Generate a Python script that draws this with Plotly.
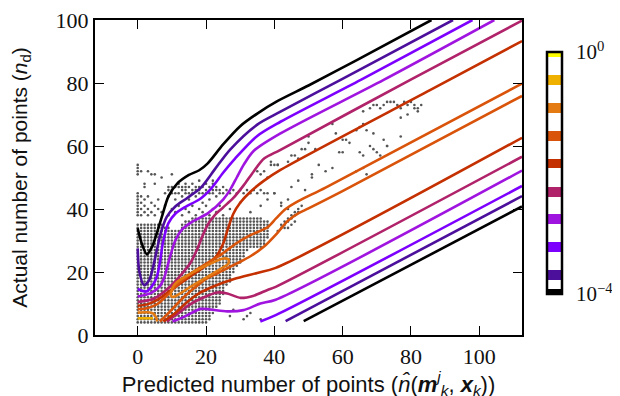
import plotly.graph_objects as go

# ---------------- data ----------------
level_colors = ["#000000", "#4c0f9c", "#7d00ff", "#a014e0", "#b0226a",
                "#c43000", "#d9540a", "#e37a12", "#f0b000", "#ffff00"]

black_up_x = [0, 1.2, 2.7, 4.2, 5.5, 7.2, 9, 11.5, 15, 18, 20.5, 25, 30, 35, 41, 50, 64, 86]
black_up_y = [33.9, 29, 25.6, 28, 32, 38, 44, 48, 50.8, 52.3, 54.5, 60.5, 66.3, 70.3, 74.3, 79.2, 87.2, 100]
black_lo_x = [48.6, 112.5]
black_lo_y = [4.4, 40.8]

indigo_up_x = [0, 0.5, 1.9, 3.4, 4.6, 5.7, 6.8, 8.5, 11, 14.5, 18.5, 22.5, 27, 35, 41.8, 59.4, 92.3]
indigo_up_y = [27.5, 20, 15.8, 17.5, 22, 27.5, 32.5, 37.5, 40.8, 43.5, 46.8, 52.5, 58.8, 66.8, 70.9, 81, 100]
indigo_lo_x = [43.3, 112.5]
indigo_lo_y = [4.4, 44.1]

violet_up_x = [0, 2.5, 4.4, 5.6, 6.5, 7.5, 9, 11, 14, 18, 21.5, 25, 28.5, 35, 41.8, 65.3, 98]
violet_up_y = [14.6, 13.8, 15.9, 18.5, 23, 30, 35.5, 38.5, 40.7, 43, 46.5, 51.5, 56, 63.2, 67.7, 81, 100]
violet_lo_x = [35.9, 40.4, 112.5]
violet_lo_y = [4.3, 6.3, 47.3]

purple_up_x = [0, 3.8, 6.5, 7.7, 9.2, 11, 13, 16, 20.5, 25, 27, 29, 31, 34, 41.8, 72, 104.4]
purple_up_y = [12.2, 13.3, 15.5, 18, 23.8, 30, 33.5, 36, 38.6, 43, 46, 50, 54, 58.5, 64, 81, 100]
purple_lo_x = [10.2, 14, 18.4, 21.3, 26.2, 31, 35.9, 40.4, 112.5]
purple_lo_y = [4.3, 6, 8.3, 8.1, 7.5, 7.9, 10, 11.2, 52.2]

magenta_up_x = [0, 4.8, 9.6, 13, 15.5, 17.5, 19, 20.5, 22.5, 25, 28, 31, 34, 37, 41.8, 79.8, 112.5]
magenta_up_y = [10.5, 11.6, 15.5, 19.5, 23, 27.5, 31.5, 35, 38, 40.5, 43.5, 47.5, 52, 56, 58.8, 81, 99.8]
magenta_lo_x = [8.5, 12, 15, 18.4, 23.3, 26.2, 30.1, 34, 38, 40.4, 112.5]
magenta_lo_y = [4.3, 7, 9.5, 11.5, 13.5, 13.2, 11.8, 12.5, 14.3, 15.3, 56.6]

red_up_x = [0, 3, 6, 10, 15.5, 20, 23, 25, 26.5, 28, 30, 33, 37, 41.8, 85.7, 112.5]
red_up_y = [9.3, 9.8, 11.3, 14.5, 18.7, 22, 25, 29, 34, 38.5, 42, 45.5, 49, 52.4, 77.8, 93.3]
red_lo_x = [7.5, 11, 14.5, 18.4, 22.3, 28.2, 35, 40.4, 112.5]
red_lo_y = [4.3, 7, 10.5, 13.5, 15.5, 17.8, 19.7, 21.3, 62.6]

dorange_up_x = [0, 3, 6, 9, 12, 16, 20, 25, 29, 33, 38, 40.5, 43.3, 47, 55, 112.5]
dorange_up_y = [8.2, 8.6, 10, 13, 16.3, 19.8, 22.6, 26, 29.2, 31.7, 34.2, 37, 40, 42.5, 46.8, 79.8]
dorange_lo_x = [6.5, 9.5, 13, 17, 20, 23.3, 29.2, 33, 36.9, 40.8, 44, 47, 50, 59.8, 112.5]
dorange_lo_y = [4.3, 7.5, 11.5, 15.3, 17.8, 19.6, 22.8, 25, 28, 32.3, 36.3, 38.6, 40.2, 45.6, 75.9]

orange_loop_x = [9.7, 10.2, 11.5, 15, 18.4, 22, 25, 26.6, 26.5, 25, 22, 18.4, 15, 12.5, 10.5, 9.7]
orange_loop_y = [12.5, 15, 16.8, 19.2, 21.2, 23, 24.3, 24, 22.6, 21.5, 19.5, 17.2, 15, 13.2, 12.1, 12.5]
orange_left_x = [0, 3, 4.6, 5.4, 5.7]
orange_left_y = [7.1, 7.2, 6.8, 5.6, 4.3]

amber_x = [0, 4.5]
amber_y = [5.3, 5.3]

contour_lines = [
    (0, black_up_x, black_up_y), (0, black_lo_x, black_lo_y),
    (1, indigo_up_x, indigo_up_y), (1, indigo_lo_x, indigo_lo_y),
    (2, violet_up_x, violet_up_y), (2, violet_lo_x, violet_lo_y),
    (3, purple_up_x, purple_up_y), (3, purple_lo_x, purple_lo_y),
    (4, magenta_up_x, magenta_up_y), (4, magenta_lo_x, magenta_lo_y),
    (5, red_up_x, red_up_y), (5, red_lo_x, red_lo_y),
    (6, dorange_up_x, dorange_up_y), (6, dorange_lo_x, dorange_lo_y),
    (7, orange_loop_x, orange_loop_y), (7, orange_left_x, orange_left_y),
    (8, amber_x, amber_y),
]

# observed points: dense rows (y, first x, last x) on the integer grid
dense_rows = [
    (4, 0, 20), (5, 0, 21), (6, 0, 21), (7, 0, 22), (8, 0, 22), (9, 0, 23),
    (10, 0, 24), (11, 0, 24), (12, 0, 24), (13, 0, 25), (14, 0, 25), (15, 0, 25), (16, 0, 26),
    (17, 0, 27), (18, 0, 27), (19, 0, 27), (20, 0, 28), (21, 0, 28), (22, 0, 29),
    (23, 0, 30), (24, 0, 30), (25, 0, 31), (26, 0, 31), (27, 0, 32),
    (28, 0, 36), (29, 0, 37), (30, 0, 37), (31, 0, 38), (32, 0, 38), (33, 0, 38),
    (34, 0, 9), (34, 13, 38), (35, 0, 7), (35, 13, 38), (36, 14, 38), (37, 16, 36),
]
sparse_x = [0, 0, 0, 0, 0, 0, 0, 0, 0, 0, 0, 0, 1, 1, 1, 1, 1, 2, 2, 2, 2, 2, 3, 3, 3, 3,
            4, 4, 4, 5, 5, 5, 5, 6, 6, 7, 7, 8, 8, 9, 9, 9, 9, 10, 10, 10, 10, 10, 11, 11, 11,
            11, 12, 12, 12, 12, 13, 13, 13, 13, 14, 14, 14, 14, 14, 15, 15, 15, 15, 16, 16, 16,
            16, 17, 17, 17, 17, 18, 18, 18, 18, 18, 19, 19, 19, 19, 20, 20, 20, 20, 21, 21, 21,
            21, 22, 22, 22, 22, 22, 23, 23, 23, 23, 24, 24, 24, 25, 25, 25,
            26, 27, 28, 29, 30, 31, 32, 33, 34, 35, 36, 37, 27, 30, 33, 36, 38, 40, 42, 44,
            35, 36, 37, 38, 39, 40, 41, 40, 42, 44,
            41, 42, 43, 44, 45, 46, 47, 42, 43, 44, 45, 46, 47, 48, 43, 44, 45, 46,
            28, 32, 27, 31, 33, 36,
            38, 39, 41, 44, 45, 46, 47, 48, 49, 50, 51, 52, 53, 55, 57, 45, 47, 49, 51,
            59, 60, 65, 66, 68, 69, 70, 73, 77, 60, 62, 64, 65, 66, 67, 69, 57, 58, 61,
            66, 68, 69, 70, 71, 72, 73, 74, 75, 76, 77, 78, 79, 80, 81, 82, 83, 77, 79,
            81, 82, 50, 72, 73, 71, 64, 66, 67]
sparse_y = [38, 39, 40, 41, 42, 43, 44, 45, 51, 52, 53, 54, 38, 40, 42, 44, 52, 39, 41, 43, 47, 48, 38, 40, 44, 52,
            39, 42, 51, 38, 41, 48, 51, 40, 43, 39, 50, 41, 45, 38, 44, 46, 47, 40, 45, 46, 47, 51, 39, 43, 45,
            47, 41, 45, 47, 48, 38, 44, 46, 47, 40, 45, 46, 47, 48, 39, 43, 45, 47, 41, 45, 46,
            48, 38, 44, 46, 47, 40, 45, 46, 47, 49, 39, 42, 45, 47, 41, 45, 46, 48, 38, 43, 45,
            47, 40, 45, 46, 48, 49, 39, 44, 46, 47, 41, 45, 46, 38, 45, 47,
            46, 45, 46, 45, 46, 45, 46, 45, 46, 45, 46, 45, 40, 42, 39, 41, 43, 45, 41, 43,
            52, 51, 52, 50, 54, 54, 54, 45, 42, 40,
            33, 34, 35, 36, 37, 38, 39, 35, 36, 37, 38, 39, 40, 41, 34, 34, 35, 36,
            8, 6, 6, 5, 7, 5,
            45, 55, 54, 55, 57, 57, 56, 59, 59, 61, 51, 59, 54, 52, 53, 47, 49, 46, 50,
            58, 58, 58, 57, 60, 59, 58, 60, 63, 62, 61, 65, 66, 67, 65, 64, 67, 64, 62,
            71, 72, 73, 73, 72, 73, 74, 74, 74, 73, 72, 74, 73, 74, 73, 72, 73, 69, 70,
            72, 71, 63, 62, 60, 57, 52, 53, 51]

x_tick_vals = [0, 20, 40, 60, 80, 100]
y_tick_vals = [0, 20, 40, 60, 80, 100]
cbar_tick_vals = [-4, 0]
cbar_tick_text = ["10<sup>−4</sup>", "10<sup>0</sup>"]

# ---------------- build figure ----------------
pts_x, pts_y = [], []
for (yy, x0, x1) in dense_rows:
    for xx in range(x0, x1 + 1):
        pts_x.append(xx)
        pts_y.append(yy)
pts_x += sparse_x
pts_y += sparse_y

fig = go.Figure()
fig.add_trace(go.Scatter(x=pts_x, y=pts_y, mode="markers",
                         marker=dict(size=2.6, color="#555555"),
                         hoverinfo="skip", showlegend=False))

for lvl, xs, ys in contour_lines:
    fig.add_trace(go.Scatter(x=xs, y=ys, mode="lines",
                             line=dict(color=level_colors[lvl], width=2.6,
                                       shape="spline", smoothing=0.8),
                             hoverinfo="skip", showlegend=False))

band_lo = [0.0, 0.058, 0.174, 0.289, 0.400, 0.520, 0.632, 0.748, 0.864, 0.979]
band_hi = [0.021, 0.099, 0.215, 0.331, 0.442, 0.558, 0.674, 0.789, 0.905, 1.0]
cscale = []
for i in range(10):
    if i > 0:
        cscale.append([band_hi[i - 1], "#ffffff"])
        cscale.append([band_lo[i], "#ffffff"])
    cscale.append([band_lo[i], level_colors[i]])
    cscale.append([band_hi[i], level_colors[i]])

serif = "Liberation Serif"
# the page body adds an 8px offset, so margins are reduced by 8px
fig.add_trace(go.Scatter(
    x=[-50, -50], y=[-50, -50], mode="markers",
    marker=dict(color=[-4, 0], cmin=-4, cmax=0, colorscale=cscale, showscale=True,
                colorbar=dict(x=1.0585, xanchor="left", y=0.514, yanchor="middle",
                              lenmode="pixels", len=242, thickness=15,
                              xpad=0, ypad=0, outlinewidth=2.5, outlinecolor="black",
                              tickvals=cbar_tick_vals, ticktext=cbar_tick_text,
                              ticks="outside", ticklen=9, tickcolor="rgba(0,0,0,0)",
                              tickfont=dict(family=serif, size=21, color="#111"))),
    hoverinfo="skip", showlegend=False))

axis_common = dict(showgrid=False, zeroline=False, showline=True, linecolor="black",
                   linewidth=2.2, mirror="ticks", ticks="inside", ticklen=9, tickwidth=1.3,
                   tickcolor="black", automargin=False, ticklabeloverflow="allow",
                   tickfont=dict(family=serif, size=22, color="#111"))

fig.update_layout(
    width=620, height=396,
    margin=dict(l=87, r=106, t=12, b=69, autoexpand=False),
    plot_bgcolor="white", paper_bgcolor="white",
    xaxis=dict(range=[-12.5, 112.5], tickvals=x_tick_vals,
               title=dict(text="Predicted number of points (<i>n̂</i>(<b><i>m</i></b><sup><i>j</i></sup><sub><i>k</i></sub>, <b><i>x</i></b><sub><i>k</i></sub>))",
                          font=dict(family="Liberation Sans", size=22, color="#111"), standoff=3),
               **axis_common),
    yaxis=dict(range=[0, 100], tickvals=y_tick_vals,
               title=dict(text="Actual number of points (<i>n</i><sub>d</sub>)",
                          font=dict(family="Liberation Sans", size=21, color="#111"), standoff=28),
               **axis_common),
)

fig.write_html("out.html")
